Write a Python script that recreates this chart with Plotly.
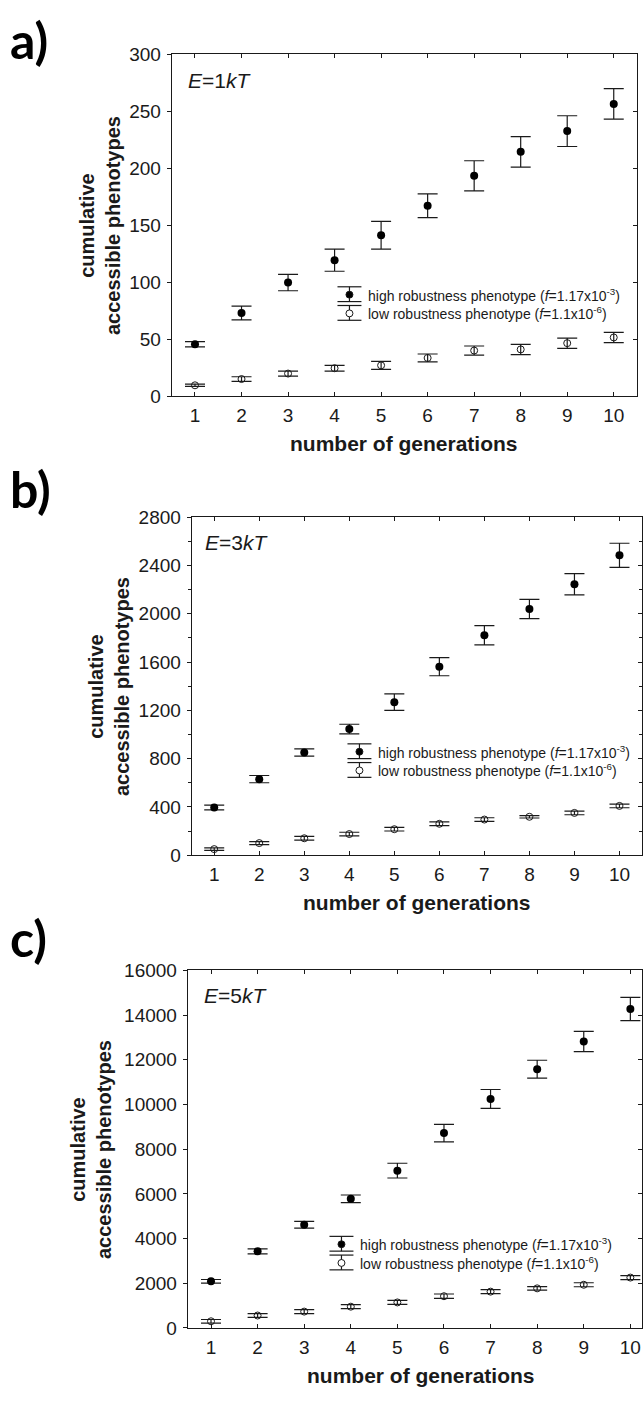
import plotly.graph_objects as go

W, H = 643, 1403

generations = list(range(1, 11))
x_ticks = [str(g) for g in generations]

# Panel a: E = 1kT
a_high = [45.5, 73, 99.7, 119.3, 141.2, 167.1, 193.4, 214.4, 232.6, 256.5]
a_high_err = [2.3, 6, 7.2, 9.7, 12.2, 10.5, 13.2, 13.4, 13.5, 13.4]
a_low = [9.5, 15, 19.8, 24.5, 27, 33.5, 40, 41, 46.5, 51.5]
a_low_err = [1, 2, 2.2, 2.5, 3.5, 3.5, 4, 4.5, 4.5, 4.5]

# Panel b: E = 3kT
b_high = [395, 630, 850, 1045, 1268, 1562, 1822, 2040, 2245, 2485]
b_high_err = [20, 30, 30, 40, 68, 75, 80, 80, 88, 100]
b_low = [50, 100, 140, 175, 215, 260, 295, 318, 350, 408]
b_low_err = [10, 12, 15, 15, 15, 15, 15, 10, 15, 15]

# Panel c: E = 5kT
c_high = [2090, 3428, 4620, 5780, 7040, 8720, 10250, 11580, 12820, 14270]
c_high_err = [80, 110, 150, 170, 330, 390, 420, 400, 450, 520]
c_low = [300, 558, 733, 953, 1143, 1421, 1626, 1773, 1934, 2255]
c_low_err = [80, 80, 90, 90, 90, 100, 90, 80, 90, 90]

high_label = "high robustness phenotype (<i>f</i>=1.17x10<sup>-3</sup>)"
low_label = "low robustness phenotype (<i>f</i>=1.1x10<sup>-6</sup>)"

def px(x):
    return x / W

def py(y):
    return 1 - y / H

FONT = "Liberation Sans, Arial, sans-serif"
INK = "#1a1a1a"

# panel geometry in pixels: (left, right, top, bottom)
panels = [
    dict(name="a)", E="1", geom=(172, 638, 45, 392), xr=[0.5, 10.5], yr=[0, 300], dtick=50, minor=None,
         high=a_high, high_err=a_high_err, low=a_low, low_err=a_low_err,
         leg=(350, 289, 308), ytitle_x=100, label_y=30, etext=(186, 72)),
    dict(name="b)", E="3", geom=(192, 643, 515, 858), xr=[0.5, 10.5], yr=[0, 2800], dtick=400, minor=200,
         high=b_high, high_err=b_high_err, low=b_low, low_err=b_low_err,
         leg=(360, 753, 772), ytitle_x=109, label_y=486, etext=(203, 541)),
    dict(name="c)", E="5", geom=(188, 643, 975, 1338), xr=[0.5, 10.25], yr=[0, 16000], dtick=2000, minor=None,
         high=c_high, high_err=c_high_err, low=c_low, low_err=c_low_err,
         leg=(342, 1253, 1272), ytitle_x=91, label_y=942, etext=(202, 1000)),
]

fig = go.Figure()
layout = dict(width=W, height=H, margin=dict(l=0, r=0, t=0, b=0),
              paper_bgcolor="white", plot_bgcolor="white", showlegend=False,
              font=dict(family=FONT, color=INK))
annotations = []
shapes = []

for i, p in enumerate(panels):
    n = i + 1
    xa = "x" if n == 1 else f"x{n}"
    ya = "y" if n == 1 else f"y{n}"
    yo = f"y{n + 3}"
    l, r, t, b = p["geom"]
    xkey = "xaxis" if n == 1 else f"xaxis{n}"
    ykey = "yaxis" if n == 1 else f"yaxis{n}"
    ykey_o = f"yaxis{n + 3}"

    layout[xkey] = dict(domain=[px(l), px(r)], range=p["xr"], anchor=ya,
                        tickvals=generations, ticktext=x_ticks, ticks="inside", ticklen=4,
                        mirror="ticks", showline=True, linecolor=INK, linewidth=1,
                        tickcolor=INK, showgrid=False, zeroline=False,
                        tickfont=dict(size=19, family=FONT, color=INK),
                        ticklabelstandoff=2)
    ydict = dict(domain=[py(b), py(t)], range=p["yr"], anchor=xa, dtick=p["dtick"],
                 ticks="outside", ticklen=4, tickcolor=INK, mirror=True, showline=True,
                 linecolor=INK, linewidth=1, showgrid=False, zeroline=False, tickformat="d",
                 tickfont=dict(size=19, family=FONT, color=INK), ticklabelstandoff=2)
    odict = dict(overlaying=ya, side="right", anchor=xa, range=p["yr"], dtick=p["dtick"],
                 ticks="inside", ticklen=4, tickcolor=INK, showline=False,
                 showticklabels=False, showgrid=False, zeroline=False)
    if p["minor"]:
        ydict["minor"] = dict(dtick=p["minor"], ticks="outside", ticklen=3, tickcolor=INK, showgrid=False)
        odict["minor"] = dict(dtick=p["minor"], ticks="inside", ticklen=3, tickcolor=INK, showgrid=False)
    layout[ykey] = ydict
    layout[ykey_o] = odict

    err_style = dict(type="data", visible=True, color=INK, thickness=1.2, width=10)
    fig.add_trace(go.Scatter(x=generations, y=p["low"], xaxis=xa, yaxis=ya, mode="markers",
                             marker=dict(symbol="circle-open", size=7, color=INK, line=dict(width=1, color=INK)),
                             error_y=dict(array=p["low_err"], **err_style), name="low"))
    fig.add_trace(go.Scatter(x=generations, y=p["high"], xaxis=xa, yaxis=ya, mode="markers",
                             marker=dict(symbol="circle", size=8, color="black"),
                             error_y=dict(array=p["high_err"], **err_style), name="high"))
    # dummy trace for the right-hand tick axis
    fig.add_trace(go.Scatter(x=[None], y=[None], xaxis=xa, yaxis=yo, mode="markers",
                             hoverinfo="skip", showlegend=False))

    # panel letter
    annotations.append(dict(text=f"<b>{p['name']}</b>", xref="paper", yref="paper",
                            x=px(8), y=py(p["label_y"]), xanchor="left", yanchor="middle",
                            showarrow=False, font=dict(size=50, family="Lato, Open Sans, sans-serif", color="black")))
    # energy annotation
    ex, ey = p["etext"]
    annotations.append(dict(text=f"<i>E</i>=" + p["E"] + "<i>kT</i>", xref="paper", yref="paper",
                            x=px(ex), y=py(ey), xanchor="left", yanchor="middle", showarrow=False,
                            font=dict(size=21, family=FONT, color=INK)))
    # y title
    annotations.append(dict(text="<b>cumulative<br>accessible phenotypes</b>", xref="paper", yref="paper",
                            x=px(p["ytitle_x"]), y=py((t + b) / 2), xanchor="center", yanchor="middle",
                            textangle=-90, showarrow=False,
                            font=dict(size=20, family=FONT, color=INK)))
    # x title
    xc = l + (r - l) * ((5.5 - p["xr"][0]) / (p["xr"][1] - p["xr"][0]))
    annotations.append(dict(text="<b>number of generations</b>", xref="paper", yref="paper",
                            x=px(xc), y=py(b + 48), xanchor="center", yanchor="middle",
                            showarrow=False, font=dict(size=21, family=FONT, color=INK)))

    # legend (manual, with error-bar glyphs)
    cx, r1, r2 = p["leg"]
    for ry, label, filled in [(r1, high_label, True), (r2, low_label, False)]:
        shapes.append(dict(type="line", xref="paper", yref="paper", x0=px(cx - 12), x1=px(cx + 12),
                           y0=py(ry - 8), y1=py(ry - 8), line=dict(color=INK, width=1.2)))
        shapes.append(dict(type="line", xref="paper", yref="paper", x0=px(cx - 12), x1=px(cx + 12),
                           y0=py(ry + 7), y1=py(ry + 7), line=dict(color=INK, width=1.2)))
        shapes.append(dict(type="line", xref="paper", yref="paper", x0=px(cx), x1=px(cx),
                           y0=py(ry - 8), y1=py(ry + 7), line=dict(color=INK, width=1.2)))
        shapes.append(dict(type="circle", xref="paper", yref="paper",
                           x0=px(cx - 3.5), x1=px(cx + 3.5), y0=py(ry - 3.5), y1=py(ry + 3.5),
                           line=dict(color=INK, width=1),
                           fillcolor="black" if filled else "white"))
        annotations.append(dict(text=label, xref="paper", yref="paper", x=px(cx + 17), y=py(ry),
                                xanchor="left", yanchor="middle", showarrow=False,
                                font=dict(size=14, family=FONT, color=INK)))

layout["annotations"] = annotations
layout["shapes"] = shapes
fig.update_layout(**layout)
fig.write_html("out.html")
